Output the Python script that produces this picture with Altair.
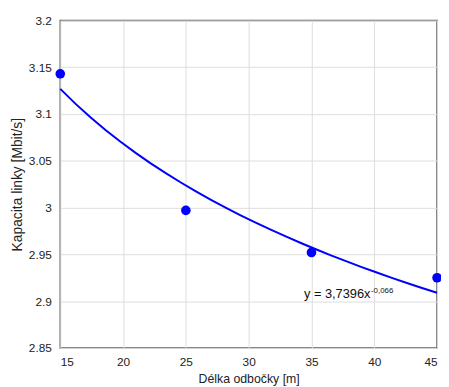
import altair as alt
import pandas as pd

lengths = [15, 25, 35, 45]
capacity = [3.143, 2.997, 2.952, 2.925]
x_ticks = [15, 20, 25, 30, 35, 40, 45]
y_ticks = [2.85, 2.9, 2.95, 3.0, 3.05, 3.1, 3.15, 3.2]
eq_main = ["y = 3,7396x"]
eq_sup = ["-0,066"]
eq_pos_x = [34.40]
eq_pos_y = [2.9038]

df = pd.DataFrame({"x": lengths, "y": capacity})
eq_df = pd.DataFrame({"x": eq_pos_x, "y": eq_pos_y, "t": eq_main, "s": eq_sup})

FONT = "Liberation Sans"

xs = alt.Scale(domain=[15, 45], nice=False, zero=False)
ys = alt.Scale(domain=[2.85, 3.2], nice=False, zero=False)

xax = alt.Axis(values=x_ticks, title="Délka odbočky [m]", ticks=False, labelPadding=9,
               grid=True, gridColor="#dddddd", domain=False, labelFontSize=12,
               titleFontSize=12.5, titleFontWeight="normal", labelFont=FONT, titleFont=FONT,
               labelColor="#222222", titleColor="#222222", titlePadding=5)
yax = alt.Axis(values=y_ticks, title="Kapacita linky [Mbit/s]", ticks=False, labelPadding=9,
               grid=True, gridColor="#dddddd", domain=False, format=".2~f", labelFontSize=12,
               titleFontSize=14, titleFontWeight="normal", labelFont=FONT, titleFont=FONT,
               labelColor="#222222", titleColor="#222222", titlePadding=4)

base = alt.Chart(df)

points = base.mark_circle(size=95, color="#0000ff", opacity=1, clip=False).encode(
    x=alt.X("x:Q", scale=xs, axis=xax),
    y=alt.Y("y:Q", scale=ys, axis=yax),
)

trend = base.transform_regression("x", "y", method="pow").mark_line(
    color="#0000ff", strokeWidth=2
).encode(x=alt.X("x:Q", scale=xs), y=alt.Y("y:Q", scale=ys))

eq_text = alt.Chart(eq_df).mark_text(
    align="left", baseline="alphabetic", fontSize=13, font=FONT, color="#111111"
).encode(x=alt.X("x:Q", scale=xs), y=alt.Y("y:Q", scale=ys), text="t:N")

eq_sup_text = alt.Chart(eq_df).mark_text(
    align="left", baseline="alphabetic", fontSize=8, font=FONT, color="#111111", dx=68, dy=-5
).encode(x=alt.X("x:Q", scale=xs), y=alt.Y("y:Q", scale=ys), text="s:N")

chart = alt.layer(trend, points, eq_text, eq_sup_text).properties(
    width=382, height=332,
    autosize=alt.AutoSizeParams(type="none"),
    padding={"left": 53, "top": 10, "right": 4, "bottom": 37},
    background="white",
).configure_view(stroke="#555555", strokeWidth=1.5)

chart.save("out.html", embed_options={"renderer": "svg", "actions": False})
